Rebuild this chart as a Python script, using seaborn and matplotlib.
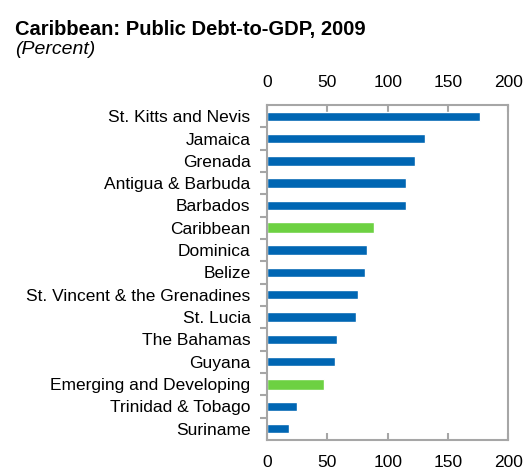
import matplotlib
matplotlib.use('Agg')
import matplotlib.pyplot as plt
import seaborn as sns
import pandas as pd

# Data (top to bottom)
countries = ['St. Kitts and Nevis', 'Jamaica', 'Grenada', 'Antigua & Barbuda', 'Barbados',
             'Caribbean', 'Dominica', 'Belize', 'St. Vincent & the Grenadines', 'St. Lucia',
             'The Bahamas', 'Guyana', 'Emerging and Developing', 'Trinidad & Tobago', 'Suriname']
debt = [177, 131, 123, 115, 115, 88.5, 83, 81.5, 75.5, 74, 58, 56.5, 47, 24.5, 18.5]
aggregates = ['Caribbean', 'Emerging and Developing']

df = pd.DataFrame({'country': countries, 'debt': debt})
df['group'] = df['country'].isin(aggregates)

sns.set_style('white')
plt.rcParams['font.family'] = ['Liberation Sans', 'DejaVu Sans']
plt.rcParams['text.color'] = 'black'

fig = plt.figure(figsize=(5.26, 4.71), dpi=100)
ax = fig.add_axes([0.508, 0.066, 0.458, 0.711])

# Countries in blue, aggregates in green (slightly thicker)
sns.barplot(data=df[~df['group']], x='debt', y='country', order=countries,
            color='#0066B3', saturation=1, width=0.42, orient='h', ax=ax)
sns.barplot(data=df[df['group']], x='debt', y='country', order=countries,
            color='#6DD142', saturation=1, width=0.5, orient='h', ax=ax)

ax.set_xlim(0, 200)
ax.set_ylim(len(countries) - 0.5, -0.5)
ax.set_xticks([0, 50, 100, 150, 200])
ax.set_xlabel('')
ax.set_ylabel('')

grey = '#A6A6A6'
for s in ax.spines.values():
    s.set_visible(True)
    s.set_color(grey)
    s.set_linewidth(1.5)

ax.tick_params(axis='x', which='both', top=True, bottom=True, labeltop=True, labelbottom=True,
               direction='in', length=5, width=1.5, color=grey, labelcolor='black',
               labelsize=12.5, pad=11)
# category separators as ticks on the left
ax.set_yticks([i + 0.5 for i in range(len(countries) - 1)], minor=True)
ax.tick_params(axis='y', which='major', length=0, labelsize=12.5, pad=12, labelcolor='black')
ax.tick_params(axis='y', which='minor', left=True, direction='out', length=5, width=1.5, color=grey)

fig.text(0.029, 0.926, 'Caribbean: Public Debt-to-GDP, 2009', fontsize=14.5,
         fontweight='bold', color='black')
fig.text(0.029, 0.885, '(Percent)', fontsize=14, fontstyle='italic', color='black')

fig.savefig('out.png', dpi=100)
